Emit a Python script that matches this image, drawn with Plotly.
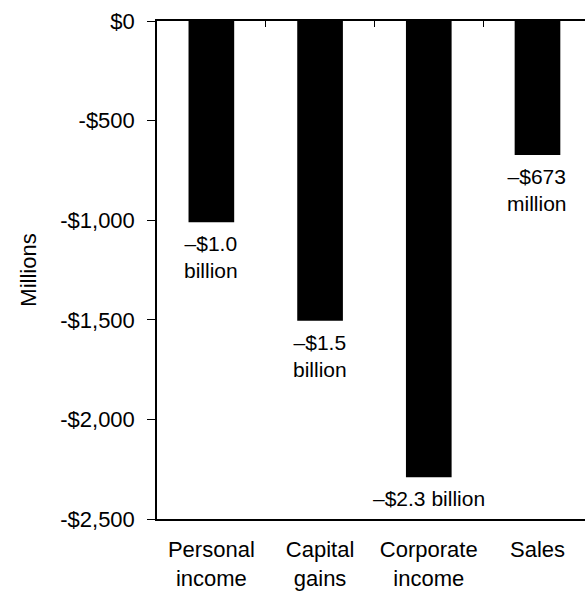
import plotly.graph_objects as go

categories = ["Personal<br>income", "Capital<br>gains", "Corporate<br>income", "Sales"]
values = [-1010, -1505, -2290, -673]
bar_labels = ["–$1.0<br>billion", "–$1.5<br>billion", "–$2.3 billion", "–$673<br>million"]
y_tickvals = [0, -500, -1000, -1500, -2000, -2500]
y_ticktext = ["$0", "-$500", "-$1,000", "-$1,500", "-$2,000", "-$2,500"]

FONT = "Arial, 'Liberation Sans', sans-serif"
FS = 21
TFS = 22

fig = go.Figure()
fig.add_trace(go.Bar(x=categories, y=values, width=0.42,
                     marker=dict(color="black", line=dict(width=0)),
                     hoverinfo="skip", showlegend=False))
# invisible trace to anchor the top axis
fig.add_trace(go.Scatter(x=categories, y=values, xaxis="x2", mode="markers",
                         marker=dict(size=0.1, opacity=0), hoverinfo="skip",
                         showlegend=False))

for c, v, t in zip(categories, values, bar_labels):
    fig.add_annotation(x=c, y=v, text=t, showarrow=False, yanchor="top",
                       yshift=-8, font=dict(family=FONT, size=FS, color="black"),
                       align="center")

xrange = [-0.5, 3.437]
fig.update_layout(
    width=585, height=591,
    margin=dict(l=157, r=0, t=21, b=70),
    paper_bgcolor="white", plot_bgcolor="white",
    font=dict(family=FONT, size=FS, color="black"),
    xaxis=dict(range=xrange, showline=True, linecolor="black", linewidth=1.5,
               ticks="", showgrid=False, zeroline=False, ticklabelstandoff=10,
               tickfont=dict(family=FONT, size=TFS, color="black"),
               fixedrange=True),
    xaxis2=dict(range=xrange, overlaying="x", side="top", showline=True,
                linecolor="black", linewidth=1.5, ticks="inside", ticklen=6,
                tickcolor="black", tickson="boundaries", showticklabels=False,
                showgrid=False, zeroline=False, matches="x"),
    yaxis=dict(range=[-2500, 0], tickvals=y_tickvals, ticktext=y_ticktext,
               showline=True, linecolor="black", linewidth=1.5,
               ticks="outside", ticklen=8, tickcolor="black",
               showgrid=False, zeroline=False, ticklabelstandoff=8,
               tickfont=dict(family=FONT, size=TFS, color="black"),
               title=dict(text="Millions", font=dict(family=FONT, size=TFS, color="black"),
                          standoff=18)),
)

fig.write_html("out.html")
